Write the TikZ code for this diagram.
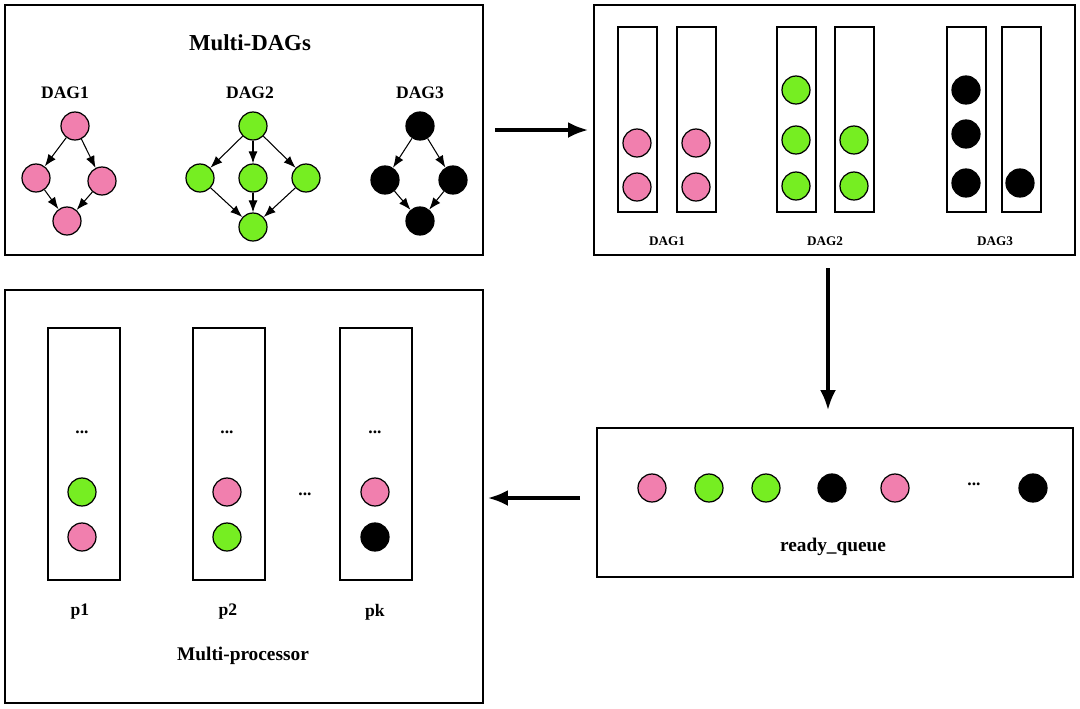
\documentclass[tikz,border=0pt]{standalone}
\usepackage{fontspec}
\setmainfont{Liberation Serif}
\usetikzlibrary{positioning, arrows.meta}
\definecolor{pinkc}{HTML}{F17FAE}
\definecolor{greenc}{HTML}{76EE22}

\begin{document}
\begin{tikzpicture}[
        x=0.02cm, y=-0.02cm,
        frame/.style={draw, line width=1pt},
        col/.style={draw, line width=0.7pt},
        task/.style={circle, draw, line width=0.7pt, minimum size=0.56cm, inner sep=0pt},
        pk/.style={task, fill=pinkc},
        gr/.style={task, fill=greenc},
        bk/.style={task, fill=black},
        edge/.style={draw, line width=0.6pt, -{Latex[length=2.4mm]}},
        arrow/.style={draw, line width=1.8pt, -{Latex[length=4mm, width=3.2mm]}},
        lbl/.style={font=\bfseries\fontsize{10}{12}\selectfont},
        small/.style={font=\bfseries\fontsize{7.5}{9}\selectfont}
    ]
    \useasboundingbox (0,0) rectangle (1080,708);

    % Rahmen
    \node (dags) [frame, minimum width=9.56cm, minimum height=5cm] at (244,130) {};
    \node (tasks) [frame, minimum width=9.62cm, minimum height=5cm] at (834.5,130) {};
    \node (queue) [frame, minimum width=9.52cm, minimum height=2.98cm] at (835,502.5) {};
    \node (procs) [frame, minimum width=9.56cm, minimum height=8.26cm] at (244,496.5) {};

    % Multi-DAGs
    \node [font=\bfseries\fontsize{13}{15}\selectfont] at (250,43) {Multi-DAGs};
    \node [lbl] at (65,93) {DAG1};
    \node [lbl] at (250,93) {DAG2};
    \node [lbl] at (420,93) {DAG3};

    \node (a1) [pk] at (75,126) {};
    \node (a2) [pk] at (36,178) {};
    \node (a3) [pk] at (102,181) {};
    \node (a4) [pk] at (67,221) {};
    \foreach \s/\t in {a1/a2, a1/a3, a2/a4, a3/a4} \draw[edge] (\s) -- (\t);

    \node (b1) [gr] at (253,126) {};
    \node (b2) [gr] at (200,178) {};
    \node (b3) [gr] at (253,178) {};
    \node (b4) [gr] at (306,178) {};
    \node (b5) [gr] at (253,227) {};
    \foreach \s/\t in {b1/b2, b1/b3, b1/b4, b2/b5, b3/b5, b4/b5} \draw[edge] (\s) -- (\t);

    \node (c1) [bk] at (420,126) {};
    \node (c2) [bk] at (385,180) {};
    \node (c3) [bk] at (453,180) {};
    \node (c4) [bk] at (420,221) {};
    \foreach \s/\t in {c1/c2, c1/c3, c2/c4, c3/c4} \draw[edge] (\s) -- (\t);

    % Aufgabenlisten
    \foreach \x in {637.5, 696.5, 796.5, 854.5, 966.5, 1021.5}
        \draw[col] (\x-19.5,27) rectangle (\x+19.5,212);
    \node (t1) [pk] at (637,143) {};
    \node (t2) [pk] at (637,187) {};
    \node (t3) [pk] at (696,143) {};
    \node (t4) [pk] at (696,187) {};
    \node (t5) [gr] at (796,90) {};
    \node (t6) [gr] at (796,140) {};
    \node (t7) [gr] at (796,186) {};
    \node (t8) [gr] at (854,140) {};
    \node (t9) [gr] at (854,186) {};
    \node (t10) [bk] at (966,90) {};
    \node (t11) [bk] at (966,134) {};
    \node (t12) [bk] at (966,183) {};
    \node (t13) [bk] at (1020,183) {};
    \node [small] at (667,241) {DAG1};
    \node [small] at (825,241) {DAG2};
    \node [small] at (995,241) {DAG3};

    % ready_queue
    \node (q1) [pk] at (652,488) {};
    \node (q2) [gr] at (709,488) {};
    \node (q3) [gr] at (766,488) {};
    \node (q4) [bk] at (832,488) {};
    \node (q5) [pk] at (895,488) {};
    \node [lbl] at (974,484) {...};
    \node (q6) [bk] at (1033,488) {};
    \node [font=\bfseries\fontsize{11}{13}\selectfont] at (833,547) {ready\_queue};

    % Multi-processor
    \foreach \x in {84, 229, 376}
        \draw[col] (\x-36,328) rectangle (\x+36,580);
    \foreach \x in {82, 227, 375} \node [lbl] at (\x,432) {...};
    \node [lbl] at (305,494) {...};
    \node (p1a) [gr] at (82,492) {};
    \node (p1b) [pk] at (82,537) {};
    \node (p2a) [pk] at (227,492) {};
    \node (p2b) [gr] at (227,537) {};
    \node (p3a) [pk] at (375,492) {};
    \node (p3b) [bk] at (375,537) {};
    \node [lbl] at (80,612) {p1};
    \node [lbl] at (228,612) {p2};
    \node [lbl] at (375,612) {pk};
    \node [font=\bfseries\fontsize{11}{13}\selectfont] at (243,656) {Multi-processor};

    % Verbindungen
    \coordinate (s1) at (495,130);
    \coordinate (e1) at (588,130);
    \coordinate (s2) at (828,268);
    \coordinate (e2) at (828,410);
    \coordinate (s3) at (580,498);
    \coordinate (e3) at (488,498);
    \draw[arrow] (s1) -- (e1);
    \draw[arrow] (s2) -- (e2);
    \draw[arrow] (s3) -- (e3);
\end{tikzpicture}
\end{document}
